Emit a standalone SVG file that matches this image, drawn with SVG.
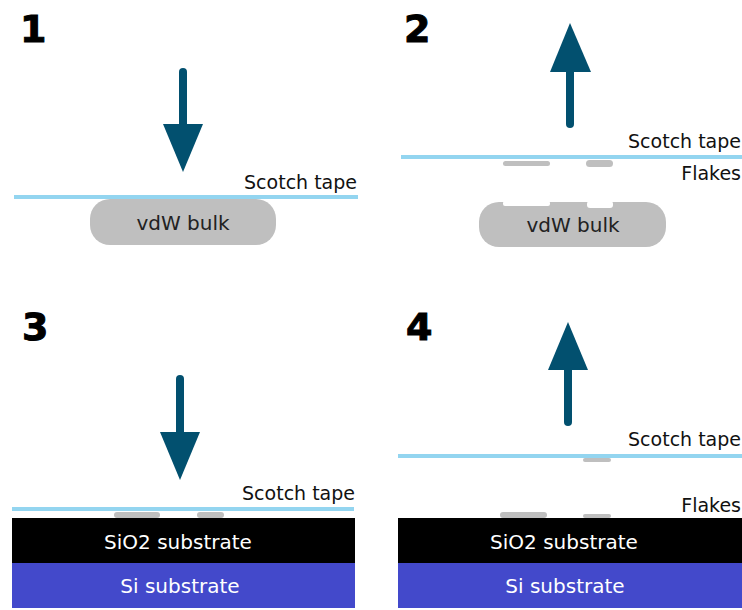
<svg xmlns="http://www.w3.org/2000/svg" width="742" height="610" viewBox="0 0 742 610">
<style>
.num{font-family:"DejaVu Sans",sans-serif;font-weight:bold;font-size:38px;fill:#000;stroke:#000;stroke-width:1}
.lbl{font-family:"DejaVu Sans",sans-serif;font-size:19px;fill:#111}
.inlbl{font-family:"DejaVu Sans",sans-serif;font-size:20px;text-anchor:middle}
.tape{stroke:#93D5F0;stroke-width:4}
.shaft{stroke:#02506F;stroke-width:8;stroke-linecap:round}
.head{fill:#02506F}
.flake{fill:#BFBFBF}
.bulk{fill:#BFBFBF}
.sio2{fill:#000}
.si{fill:#4349CB}
</style>
<rect width="742" height="610" fill="#fff"/>
<g id="panel1">
<text class="num" x="20" y="42">1</text>
<line class="shaft" x1="183" y1="72" x2="183" y2="126"/>
<polygon class="head" points="163,124 203,124 183,172"/>
<rect class="bulk" x="90" y="199" width="186" height="46" rx="20"/>
<text class="inlbl" x="183" y="230" fill="#222">vdW bulk</text>
<line class="tape" x1="14" y1="197" x2="358" y2="197"/>
<text class="lbl" x="357" y="189" text-anchor="end">Scotch tape</text>
</g>
<g id="panel2">
<text class="num" x="404" y="42">2</text>
<line class="shaft" x1="570" y1="70" x2="570" y2="124"/>
<polygon class="head" points="550,72 591,72 570,23"/>
<line class="tape" x1="401" y1="157" x2="742" y2="157"/>
<rect class="flake" x="503" y="161" width="47" height="5" rx="2.5"/>
<rect class="flake" x="586" y="160" width="27" height="7" rx="3.5"/>
<rect class="bulk" x="479" y="202" width="187" height="45" rx="20"/>
<rect x="503" y="201" width="47" height="5" rx="2" fill="#fff"/>
<rect x="587" y="201" width="26" height="7" rx="3" fill="#fff"/>
<text class="inlbl" x="573" y="232" fill="#222">vdW bulk</text>
<text class="lbl" x="741" y="148" text-anchor="end">Scotch tape</text>
<text class="lbl" x="741" y="180" text-anchor="end">Flakes</text>
</g>
<g id="panel3">
<text class="num" x="22" y="340">3</text>
<line class="shaft" x1="180" y1="379" x2="180" y2="434"/>
<polygon class="head" points="160,432 200,432 180,480"/>
<line class="tape" x1="12" y1="509" x2="354" y2="509"/>
<rect class="flake" x="114" y="512" width="46" height="6" rx="3"/>
<rect class="flake" x="197" y="512" width="27" height="6" rx="3"/>
<rect class="sio2" x="12" y="518" width="343" height="45"/>
<rect class="si" x="12" y="563" width="343" height="45"/>
<text class="inlbl" x="178" y="549" fill="#fff">SiO2 substrate</text>
<text class="inlbl" x="180" y="593" fill="#fff">Si substrate</text>
<text class="lbl" x="355" y="500" text-anchor="end">Scotch tape</text>
</g>
<g id="panel4">
<text class="num" x="406" y="340">4</text>
<line class="shaft" x1="568" y1="368" x2="568" y2="422"/>
<polygon class="head" points="548,370 588,370 568,322"/>
<line class="tape" x1="398" y1="456" x2="742" y2="456"/>
<rect class="flake" x="583" y="458" width="28" height="4" rx="2"/>
<rect class="flake" x="500" y="512" width="47" height="6" rx="3"/>
<rect class="flake" x="583" y="514" width="28" height="4" rx="2"/>
<rect class="sio2" x="398" y="518" width="344" height="45"/>
<rect class="si" x="398" y="563" width="344" height="45"/>
<text class="inlbl" x="564" y="549" fill="#fff">SiO2 substrate</text>
<text class="inlbl" x="565" y="593" fill="#fff">Si substrate</text>
<text class="lbl" x="741" y="446" text-anchor="end">Scotch tape</text>
<text class="lbl" x="741" y="512" text-anchor="end">Flakes</text>
</g>
</svg>
